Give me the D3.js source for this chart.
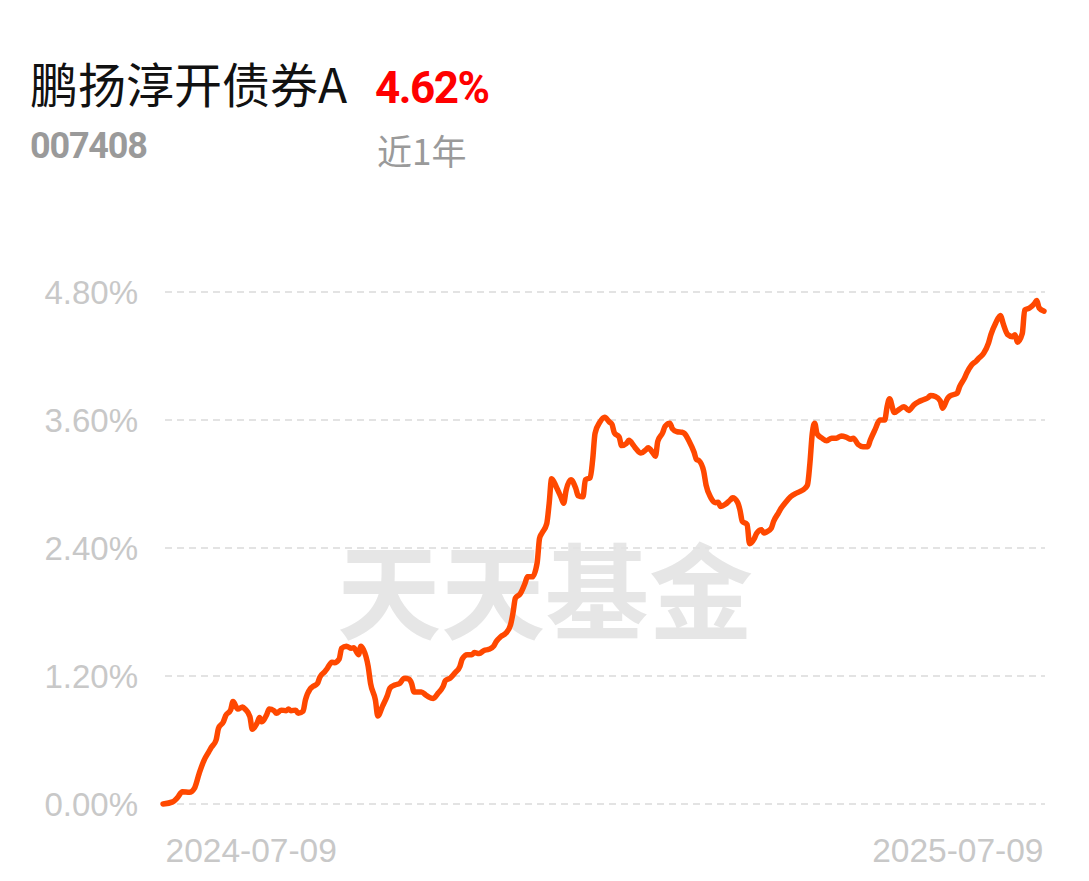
<!DOCTYPE html>
<html><head><meta charset="utf-8">
<script src="https://cdn.jsdelivr.net/npm/d3@7/dist/d3.min.js"></script>
<style>
html,body{margin:0;padding:0;background:#fff;}
svg{display:block;}
</style></head>
<body>
<svg id="chart" width="1089" height="881"></svg>
<script>
const fundName = "鹏扬淳开债券A";
const fundCode = "007408";
const periodReturn = "4.62%";
const periodLabel = "近1年";
const startDate = "2024-07-09";
const endDate = "2025-07-09";
const xTickLabels = ["2024-07-09", "2025-07-09"];
const yTicks = [0, 1.2, 2.4, 3.6, 4.8];

// days since 2024-07-09
const dayOffsets = [
0,4,6,8,11,13,15,17,19,20,22,23,25,26,28,29,31,33,34,36,37,39,40,41,43,44,46,47,49,51,52,53,55,56,58,59,61,62,64,65,67,68,70,71,73,74,76,78,79,81,82,83,85,86,88,89,91,93,94,96,98,100,102,103,104,107,109,110,112,114,116,117,119,121,123,124,126,128,129,131,133,135,137,138,140,142,144,145,146,148,150,151,153,155,156,157,159,160,161,163,165,166,167,169,171,172,174,175,177,178,179,181,183,185,186,187,189,190,192,193,195,196,198,200,201,203,204,205,207,208,210,211,213,215,216,218,220,221,222,224,225,227,229,230,231,233,235,236,238,239,240,242,243,245,246,248,249,250,252,253,255,256,258,260,262,264,266,267,268,269,270,271,273,275,277,279,281,283,285,286,288,290,292,293,295,297,299,300,301,303,305,307,309,311,313,315,317,318,320,322,323,325,326,329,330,332,333,335,337,338,340,342,343,345,347,348,350,352,353,354,356,357,359,361,362,363,365
];
const returns = [
0.00,0.02,0.06,0.115,0.11,0.147,0.288,0.41,0.49,0.53,0.60,0.71,0.77,0.83,0.88,0.96,0.89,0.91,0.89,0.82,0.70,0.76,0.81,0.77,0.84,0.89,0.875,0.85,0.88,0.875,0.89,0.875,0.88,0.85,0.87,0.975,1.08,1.10,1.13,1.19,1.24,1.27,1.33,1.325,1.36,1.46,1.48,1.46,1.465,1.40,1.48,1.45,1.29,1.13,0.975,0.825,0.92,1.02,1.085,1.115,1.13,1.18,1.17,1.13,1.05,1.05,1.02,1.005,0.99,1.04,1.10,1.156,1.18,1.23,1.29,1.36,1.40,1.40,1.42,1.41,1.44,1.45,1.48,1.52,1.57,1.60,1.68,1.79,1.93,1.97,2.07,2.13,2.13,2.26,2.49,2.54,2.63,2.82,3.05,2.97,2.87,2.82,2.94,3.04,2.96,2.89,2.88,3.04,3.06,3.225,3.475,3.58,3.625,3.58,3.56,3.48,3.44,3.36,3.38,3.41,3.36,3.33,3.29,3.32,3.34,3.29,3.26,3.40,3.48,3.54,3.57,3.52,3.49,3.485,3.475,3.40,3.30,3.23,3.22,3.12,2.99,2.87,2.825,2.83,2.79,2.81,2.85,2.87,2.83,2.76,2.65,2.62,2.44,2.49,2.54,2.57,2.54,2.55,2.585,2.65,2.73,2.77,2.83,2.88,2.91,2.93,2.96,2.99,3.19,3.475,3.57,3.47,3.43,3.405,3.43,3.43,3.45,3.44,3.42,3.43,3.37,3.35,3.35,3.41,3.51,3.60,3.60,3.725,3.80,3.67,3.70,3.725,3.69,3.74,3.77,3.79,3.81,3.83,3.82,3.78,3.71,3.80,3.825,3.85,3.91,3.99,4.04,4.115,4.155,4.18,4.225,4.32,4.40,4.51,4.58,4.51,4.40,4.38,4.40,4.33,4.41,4.63,4.65,4.69,4.72,4.65,4.62
];

const svg = d3.select("#chart");
const parse = d3.timeParse("%Y-%m-%d");
const t0 = parse(startDate), t1 = parse(endDate);
const data = dayOffsets.map((d, i) => ({date: d3.timeDay.offset(t0, d), v: returns[i]}));

const x = d3.scaleTime().domain([t0, t1]).range([163, 1044]);
const y = d3.scaleLinear().domain([0, 4.8]).range([804, 292]);

// Header
svg.append("text").attr("x", 30).attr("y", 103)
  .attr("font-family", "'Noto Sans CJK SC', sans-serif").attr("font-size", 48)
  .attr("fill", "#111").text(fundName);
svg.append("text").attr("x", 375).attr("y", 103)
  .attr("font-family", "Roboto, sans-serif").attr("font-weight", "bold").attr("font-size", 44)
  .attr("letter-spacing", -1.5)
  .attr("fill", "#ff0000").text(periodReturn);
svg.append("text").attr("x", 30).attr("y", 158)
  .attr("font-family", "Roboto, sans-serif").attr("font-weight", "bold").attr("font-size", 36)
  .attr("letter-spacing", -1.2)
  .attr("fill", "#9a9a9a").text(fundCode);
svg.append("text").attr("x", 377).attr("y", 165)
  .attr("font-family", "'Noto Sans CJK SC', sans-serif").attr("font-size", 35)
  .attr("fill", "#9a9a9a").text(periodLabel);

// Watermark
svg.append("text").attr("x", 545).attr("y", 632).attr("text-anchor", "middle")
  .attr("font-family", "'Noto Sans CJK SC', sans-serif").attr("font-weight", 700).attr("font-size", 104)
  .attr("fill", "#e6e6e6").text("天天基金");

// Y axis grid + labels
const yAxis = d3.axisLeft(y).tickValues(yTicks).tickSize(0).tickPadding(0)
  .tickFormat(d => d.toFixed(2) + "%");
const gy = svg.append("g").attr("transform", "translate(138,0)").call(yAxis);
gy.select(".domain").remove();
gy.selectAll("text").attr("font-family", "'Liberation Sans', Arial, sans-serif")
  .attr("font-size", 33).attr("fill", "#c8c8c8").attr("dy", "0.36em");

const grid = svg.append("g");
grid.selectAll("line").data(yTicks).join("line")
  .attr("x1", 165).attr("x2", 1045)
  .attr("y1", d => y(d)).attr("y2", d => y(d))
  .attr("stroke", "#e3e3e3").attr("stroke-width", 2).attr("stroke-dasharray", "7,5");

// X axis labels
const xAxis = d3.axisBottom(x).tickValues(xTickLabels.map(parse)).tickSize(0).tickPadding(0)
  .tickFormat(d3.timeFormat("%Y-%m-%d"));
const gx = svg.append("g").attr("transform", "translate(0,862)").call(xAxis);
gx.select(".domain").remove();
gx.selectAll("text").attr("font-family", "'Liberation Sans', Arial, sans-serif")
  .attr("font-size", 33.5).attr("fill", "#c8c8c8").attr("dy", 0)
  .attr("text-anchor", (d, i) => i === 0 ? "start" : "end")
  .attr("transform", (d, i) => i === 0 ? "translate(2,0)" : "translate(-1,0)");

// Line
const line = d3.line().x(d => x(d.date)).y(d => y(d.v)).curve(d3.curveMonotoneX);
svg.append("path").datum(data).attr("d", line)
  .attr("fill", "none").attr("stroke", "#ff4800").attr("stroke-width", 5.5)
  .attr("stroke-linejoin", "round").attr("stroke-linecap", "round");
</script>
</body></html>
